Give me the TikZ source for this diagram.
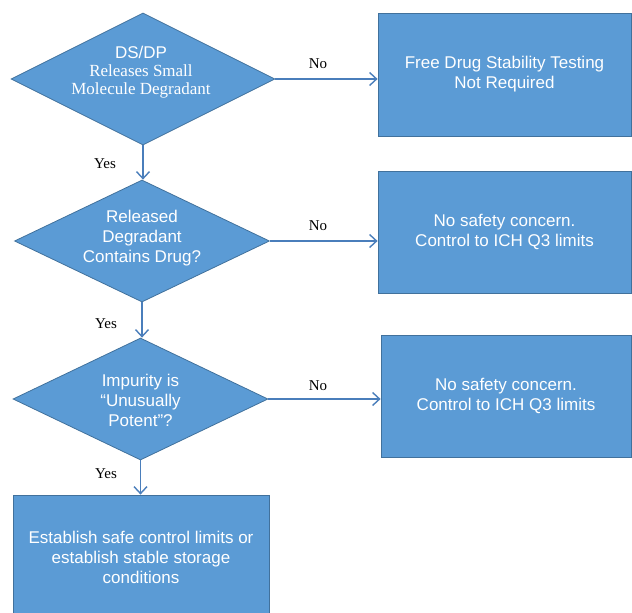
\documentclass[tikz,border=0pt]{standalone}
\usepackage{fontspec}
\setmainfont{Liberation Serif}
\setsansfont{Liberation Sans}
\usetikzlibrary{shapes.geometric,arrows.meta}
\definecolor{boxfill}{HTML}{5B9BD5}
\definecolor{boxline}{HTML}{41719C}
\definecolor{arrowcol}{HTML}{4A7EBB}
\tikzset{
  decision/.style={diamond,draw=boxline,fill=boxfill,line width=0.8pt,inner sep=0pt,aspect=2},
  actbox/.style={rectangle,draw=boxline,fill=boxfill,line width=0.8pt,inner sep=0pt},
  btext/.style={text=white,align=center,font=\sffamily\fontsize{17}{20}\selectfont},
  lbl/.style={font=\fontsize{15}{16}\selectfont,inner sep=0pt},
  flow/.style={draw=arrowcol,line width=1.5pt,-{Straight Barb[length=7pt,width=13pt,line width=1.4pt]}}
}
\begin{document}
\begin{tikzpicture}[x=1pt,y=-1pt]
\useasboundingbox (0,0) rectangle (632,613);
% decisions
\node[decision,minimum width=264pt,minimum height=132pt] (d1) at (143,79) {};
\node[decision,minimum width=255pt,minimum height=122pt] (d2) at (142,241) {};
\node[decision,minimum width=255pt,minimum height=122pt] (d3) at (140.5,399) {};
% boxes
\node[actbox,minimum width=253pt,minimum height=123pt] (b1) at (504.5,74.5) {};
\node[actbox,minimum width=253pt,minimum height=122pt] (b2) at (504.5,232) {};
\node[actbox,minimum width=250pt,minimum height=122pt] (b3) at (506,396) {};
\node[actbox,minimum width=256pt,minimum height=118pt] (b4) at (141,554) {};
% texts
\node[text=white,align=center,inner sep=0pt,font=\fontsize{17}{18}\selectfont] (t1) at (141,72.5)
  {{\sffamily DS/DP}\\
   Releases Small\\
   Molecule Degradant};
\node[btext] (t2) at (142,238) {Released\\Degradant\\Contains Drug?};
\node[btext] (t3) at (140.5,400) {Impurity is\\“Unusually\\Potent”?};
\node[btext] (tb1) at (504.5,74) {Free Drug Stability Testing\\Not Required};
\node[btext] (tb2) at (504.5,232) {No safety concern.\\Control to ICH Q3 limits};
\node[btext] (tb3) at (506,396) {No safety concern.\\Control to ICH Q3 limits};
\node[btext] (tb4) at (141,557) {Establish safe control limits or\\establish stable storage\\conditions};
% connectors
\draw[flow] (d1.east) -- (d1.east -| b1.west);
\draw[flow] (d2.east) -- (d2.east -| b2.west);
\draw[flow] (d3.east) -- (d3.east -| b3.west);
\draw[flow] (d1.south) -- (d1.south |- d2.north);
\draw[flow] (d2.south) -- (d2.south |- d3.north);
\draw[flow] (d3.south) -- (d3.south |- b4.north);
% labels
\node[lbl] (n1) at (318,64) {No};
\node[lbl] (n2) at (318,226) {No};
\node[lbl] (n3) at (318,386) {No};
\node[lbl] (y1) at (105,163.5) {Yes};
\node[lbl] (y2) at (106,323.5) {Yes};
\node[lbl] (y3) at (106,473.5) {Yes};
\end{tikzpicture}
\end{document}
